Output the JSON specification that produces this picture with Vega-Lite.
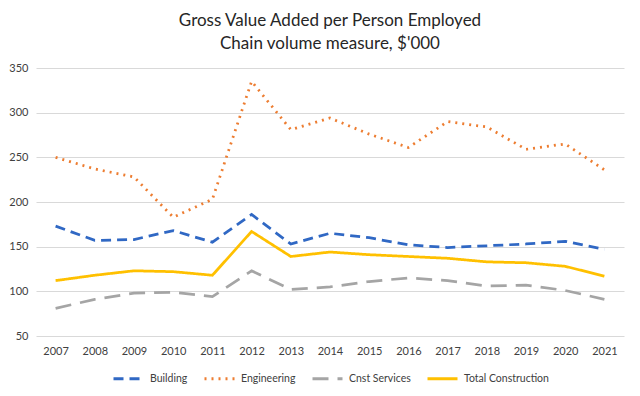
{
  "$schema": "https://vega.github.io/schema/vega-lite/v6.json",
  "width": 640,
  "height": 396,
  "autosize": {"type": "fit", "contains": "padding"},
  "padding": {"left": 8, "right": 16, "top": 12, "bottom": 11},
  "background": "white",
  "title": {
    "text": ["Gross Value Added per Person Employed", "Chain volume measure, $'000"],
    "font": "Lato",
    "fontSize": 17,
    "fontWeight": "normal",
    "color": "#262626",
    "lineHeight": 23,
    "offset": 9,
    "anchor": "middle"
  },
  "data": {
    "values": [
      {"year": "2007", "series": "Building", "value": 173},
      {"year": "2008", "series": "Building", "value": 157},
      {"year": "2009", "series": "Building", "value": 158},
      {"year": "2010", "series": "Building", "value": 168},
      {"year": "2011", "series": "Building", "value": 155},
      {"year": "2012", "series": "Building", "value": 186},
      {"year": "2013", "series": "Building", "value": 153},
      {"year": "2014", "series": "Building", "value": 165},
      {"year": "2015", "series": "Building", "value": 160},
      {"year": "2016", "series": "Building", "value": 152},
      {"year": "2017", "series": "Building", "value": 149},
      {"year": "2018", "series": "Building", "value": 151},
      {"year": "2019", "series": "Building", "value": 153},
      {"year": "2020", "series": "Building", "value": 156},
      {"year": "2021", "series": "Building", "value": 147},
      {"year": "2007", "series": "Engineering", "value": 250},
      {"year": "2008", "series": "Engineering", "value": 237},
      {"year": "2009", "series": "Engineering", "value": 228},
      {"year": "2010", "series": "Engineering", "value": 183},
      {"year": "2011", "series": "Engineering", "value": 203},
      {"year": "2012", "series": "Engineering", "value": 335},
      {"year": "2013", "series": "Engineering", "value": 281},
      {"year": "2014", "series": "Engineering", "value": 294},
      {"year": "2015", "series": "Engineering", "value": 276},
      {"year": "2016", "series": "Engineering", "value": 261},
      {"year": "2017", "series": "Engineering", "value": 290},
      {"year": "2018", "series": "Engineering", "value": 284},
      {"year": "2019", "series": "Engineering", "value": 259},
      {"year": "2020", "series": "Engineering", "value": 265},
      {"year": "2021", "series": "Engineering", "value": 236},
      {"year": "2007", "series": "Cnst Services", "value": 81},
      {"year": "2008", "series": "Cnst Services", "value": 91},
      {"year": "2009", "series": "Cnst Services", "value": 98},
      {"year": "2010", "series": "Cnst Services", "value": 99},
      {"year": "2011", "series": "Cnst Services", "value": 94},
      {"year": "2012", "series": "Cnst Services", "value": 123},
      {"year": "2013", "series": "Cnst Services", "value": 102},
      {"year": "2014", "series": "Cnst Services", "value": 105},
      {"year": "2015", "series": "Cnst Services", "value": 111},
      {"year": "2016", "series": "Cnst Services", "value": 115},
      {"year": "2017", "series": "Cnst Services", "value": 112},
      {"year": "2018", "series": "Cnst Services", "value": 106},
      {"year": "2019", "series": "Cnst Services", "value": 107},
      {"year": "2020", "series": "Cnst Services", "value": 101},
      {"year": "2021", "series": "Cnst Services", "value": 91},
      {"year": "2007", "series": "Total Construction", "value": 112},
      {"year": "2008", "series": "Total Construction", "value": 118},
      {"year": "2009", "series": "Total Construction", "value": 123},
      {"year": "2010", "series": "Total Construction", "value": 122},
      {"year": "2011", "series": "Total Construction", "value": 118},
      {"year": "2012", "series": "Total Construction", "value": 167},
      {"year": "2013", "series": "Total Construction", "value": 139},
      {"year": "2014", "series": "Total Construction", "value": 144},
      {"year": "2015", "series": "Total Construction", "value": 141},
      {"year": "2016", "series": "Total Construction", "value": 139},
      {"year": "2017", "series": "Total Construction", "value": 137},
      {"year": "2018", "series": "Total Construction", "value": 133},
      {"year": "2019", "series": "Total Construction", "value": 132},
      {"year": "2020", "series": "Total Construction", "value": 128},
      {"year": "2021", "series": "Total Construction", "value": 117}
    ]
  },
  "mark": {"type": "line", "strokeWidth": 2.75, "strokeCap": "butt"},
  "encoding": {
    "x": {
      "field": "year",
      "type": "ordinal",
      "scale": {"type": "point", "padding": 0.5},
      "axis": {
        "title": null,
        "labelAngle": 0,
        "domain": false,
        "ticks": false,
        "labelPadding": 9,
        "labelFont": "Lato",
        "labelFontSize": 11,
        "labelColor": "#404040"
      }
    },
    "y": {
      "field": "value",
      "type": "quantitative",
      "scale": {"domain": [50, 350], "nice": false, "zero": false},
      "axis": {
        "title": null,
        "values": [50, 100, 150, 200, 250, 300, 350],
        "domain": false,
        "ticks": false,
        "labelPadding": 8,
        "grid": true,
        "gridColor": "#d9d9d9",
        "gridWidth": 1,
        "labelFont": "Lato",
        "labelFontSize": 11,
        "labelColor": "#404040"
      }
    },
    "color": {
      "field": "series",
      "type": "nominal",
      "scale": {
        "domain": ["Building", "Engineering", "Cnst Services", "Total Construction"],
        "range": ["#3068C4", "#ED7D31", "#A5A5A5", "#FFC000"]
      },
      "legend": {
        "title": null,
        "orient": "bottom",
        "direction": "horizontal",
        "symbolType": "stroke",
        "symbolSize": 900,
        "symbolStrokeWidth": 3,
        "labelFont": "Lato",
        "labelFontSize": 10.5,
        "labelColor": "#404040",
        "labelOffset": 5,
        "columnPadding": 10,
        "offset": 6
      }
    },
    "strokeDash": {
      "field": "series",
      "type": "nominal",
      "scale": {
        "domain": ["Building", "Engineering", "Cnst Services", "Total Construction"],
        "range": [[10, 6], [2, 5], [16, 9], [1, 0]]
      },
      "legend": null
    }
  },
  "config": {
    "view": {"stroke": null},
    "legend": {"layout": {"bottom": {"anchor": "middle"}}}
  }
}
